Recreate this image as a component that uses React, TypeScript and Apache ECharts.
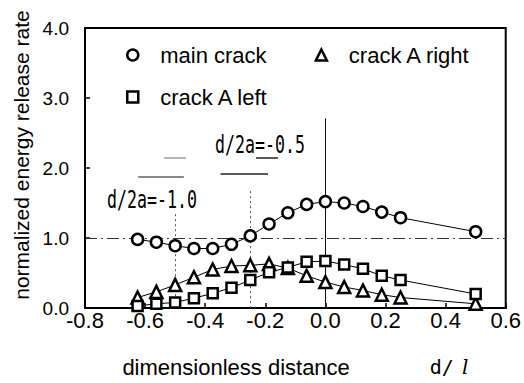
import React, { useEffect, useRef } from "react";
import * as echarts from "echarts";

const xValues = [-0.625, -0.5625, -0.5, -0.4375, -0.375, -0.3125, -0.25, -0.1875, -0.125, -0.0625, 0, 0.0625, 0.125, 0.1875, 0.25, 0.5];
const mainCrack = [0.98, 0.94, 0.89, 0.85, 0.85, 0.91, 1.03, 1.2, 1.36, 1.48, 1.52, 1.5, 1.45, 1.37, 1.29, 1.09];
const crackARight = [0.15, 0.23, 0.33, 0.44, 0.55, 0.6, 0.61, 0.63, 0.57, 0.46, 0.37, 0.3, 0.25, 0.19, 0.15, 0.06];
const crackALeft = [0.03, 0.06, 0.08, 0.14, 0.21, 0.29, 0.4, 0.51, 0.58, 0.66, 0.67, 0.62, 0.56, 0.46, 0.4, 0.2];
const seriesNames = ["main crack", "crack A right", "crack A left"];
const xTicks = [-0.8, 0.6, 0.2];
const yTicks = [0, 4, 1];

// reference lines in data units: [x1, y1, x2, y2]
const refHorizontal = [-0.8, 1.0, 0.6, 1.0];
const refZero = [0, 2.71, 0, 0];
const refHalf = [-0.25, 1.67, -0.25, 0];
const refOne = [-0.5, 1.34, -0.5, 0];
const guideA = [-0.537, 2.15, -0.464, 2.15];
const guideB = [-0.623, 1.88, -0.471, 1.88];
const guideC = [-0.349, 1.92, -0.191, 1.92];
const guideD = [-0.231, 2.15, -0.158, 2.15];
const annotations = ["d/2a=-1.0", "d/2a=-0.5"];

const fmt = (v: number) => v.toFixed(1);

function seg(s: number[], style: any) {
  return [
    { coord: [s[0], s[1]], lineStyle: style },
    { coord: [s[2], s[3]] },
  ];
}

export default function App() {
  const ref = useRef<HTMLDivElement>(null);
  useEffect(() => {
    if (!ref.current) return;
    const chart = echarts.init(ref.current, undefined, { renderer: "svg" });
    const sans = "Liberation Sans";
    const markerStyle = { color: "#fff", borderColor: "#000", borderWidth: 2.5 };
    const legendText = { fontFamily: sans, fontSize: 22, color: "#000", padding: [0, 0, 0, 17] };
    const mk = (name: string, data: number[], symbol: string, size: number, extra: any = {}) => ({
      name,
      type: "line",
      data: xValues.map((x, i) => [x, data[i]]),
      symbol,
      symbolSize: size,
      showSymbol: true,
      lineStyle: { color: "#000", width: 1 },
      itemStyle: markerStyle,
      z: 3,
      ...extra,
    });
    chart.setOption({
      animation: false,
      backgroundColor: "#fff",
      grid: { left: 85, right: 14, top: 28, bottom: 74, show: true, borderColor: "#000", borderWidth: 2 },
      legend: [
        {
          data: [
            { name: seriesNames[0], icon: "circle" },
            { name: seriesNames[1], icon: "triangle" },
          ],
          left: 121,
          top: 39,
          itemWidth: 11,
          itemHeight: 11,
          itemGap: 48,
          itemStyle: markerStyle,
          textStyle: legendText,
          selectedMode: false,
        },
        {
          data: [{ name: seriesNames[2], icon: "rect" }],
          left: 121,
          top: 81,
          itemWidth: 11,
          itemHeight: 11,
          itemStyle: markerStyle,
          textStyle: legendText,
          selectedMode: false,
        },
      ],
      xAxis: {
        type: "value",
        min: xTicks[0],
        max: xTicks[1],
        interval: xTicks[2],
        axisLine: { onZero: false, lineStyle: { color: "#000", width: 2 } },
        axisTick: { inside: true, length: 5, lineStyle: { color: "#000", width: 1.5 } },
        splitLine: { show: false },
        axisLabel: { formatter: fmt, fontFamily: sans, fontSize: 22, lineHeight: 16, color: "#000", margin: 4 },
        name: "{t|dimensionless distance}{d|d/}{l|l}",
        nameLocation: "middle",
        nameGap: 48,
        nameTextStyle: {
          rich: {
            t: { fontFamily: sans, fontSize: 22, color: "#000" },
            d: { fontFamily: "DejaVu Sans Mono", fontSize: 20, color: "#000", padding: [0, 0, 0, 80] },
            l: { fontFamily: "DejaVu Serif", fontStyle: "italic", fontSize: 20, color: "#000", padding: [0, 0, 0, 8] },
          },
        },
      },
      yAxis: {
        type: "value",
        min: yTicks[0],
        max: yTicks[1],
        interval: yTicks[2],
        axisLine: { show: true, onZero: false, lineStyle: { color: "#000", width: 2 } },
        axisTick: { show: true, inside: true, length: 5, lineStyle: { color: "#000", width: 1.5 } },
        splitLine: { show: false },
        axisLabel: { formatter: fmt, fontFamily: sans, fontSize: 19, lineHeight: 14, color: "#000", margin: 16 },
        name: "normalized energy release rate",
        nameLocation: "middle",
        nameGap: 50,
        nameTextStyle: { fontFamily: sans, fontSize: 21, color: "#000", padding: [0, 0, 0, 26] },
      },
      graphic: [
        {
          type: "text",
          x: 107,
          y: 200,
          scaleX: 0.83,
          scaleY: 1.2,
          style: { text: annotations[0], font: '20px "DejaVu Sans Mono"', fill: "#000", verticalAlign: "middle" },
        },
        {
          type: "text",
          x: 215,
          y: 145,
          scaleX: 0.83,
          scaleY: 1.2,
          style: { text: annotations[1], font: '20px "DejaVu Sans Mono"', fill: "#000", verticalAlign: "middle" },
        },
      ],
      series: [
        mk(seriesNames[0], mainCrack, "circle", 11, {
          markLine: {
            silent: true,
            symbol: ["none", "none"],
            label: { show: false },
            z: 1,
            data: [
              seg(refHorizontal, { color: "#333", width: 1, type: [12, 4, 2, 4] }),
              seg(refZero, { color: "#111", width: 1, type: "solid" }),
              seg(refHalf, { color: "#555", width: 1, type: [2, 3] }),
              seg(refOne, { color: "#555", width: 1, type: [2, 3] }),
              seg(guideA, { color: "#b5b5b5", width: 2, type: "solid" }),
              seg(guideB, { color: "#888", width: 2, type: "solid" }),
              seg(guideC, { color: "#222", width: 1.5, type: "solid" }),
              seg(guideD, { color: "#222", width: 1.5, type: "solid" }),
            ],
          },
        }),
        mk(seriesNames[1], crackARight, "triangle", 12),
        mk(seriesNames[2], crackALeft, "rect", 10),
      ],
    });
    return () => chart.dispose();
  }, []);
  return <div ref={ref} style={{ width: 524, height: 383, position: "absolute", left: 0, top: 0 }} />;
}
